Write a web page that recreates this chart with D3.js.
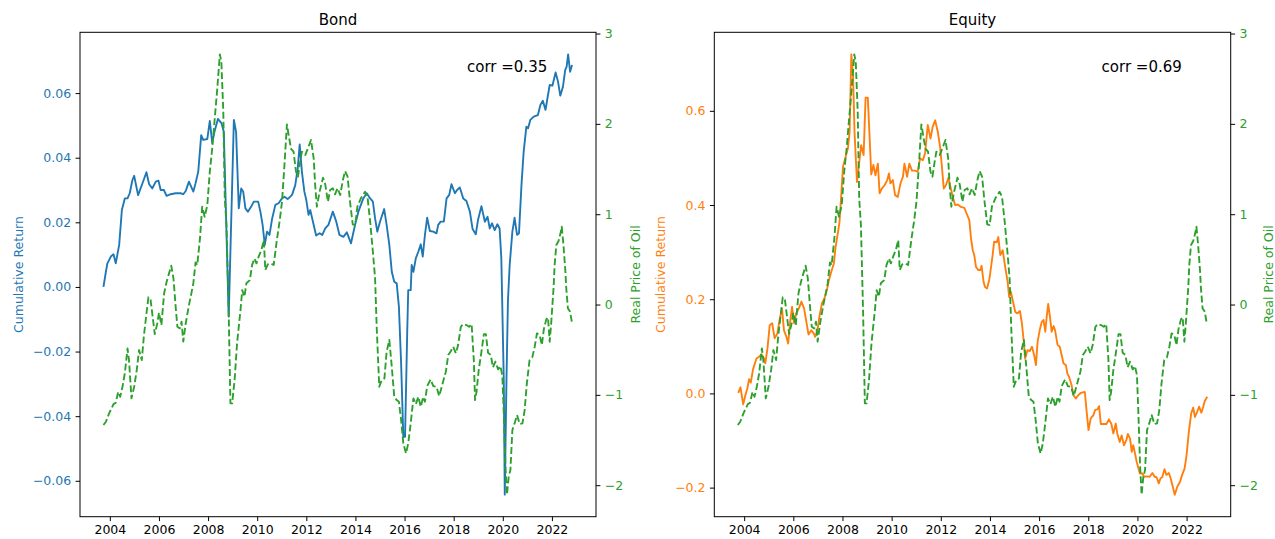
<!DOCTYPE html>
<html>
<head>
<meta charset="utf-8">
<script src="https://cdn.jsdelivr.net/npm/d3@7"></script>
<style>
  body { margin: 0; background: #fff; }
  svg text { font-family: "DejaVu Sans", sans-serif; }
</style>
</head>
<body>
<svg id="chart" width="1275" height="539"></svg>
<script>
// values (decimal years)
const bondYears = [2003.74, 2003.84, 2003.90, 2004.04, 2004.15, 2004.24, 2004.38, 2004.49, 2004.61, 2004.72, 2004.81, 2004.92, 2004.99, 2005.15, 2005.33, 2005.49, 2005.60, 2005.73, 2005.87, 2005.98, 2006.07, 2006.20, 2006.31, 2006.48, 2006.68, 2006.88, 2006.99, 2007.09, 2007.22, 2007.40, 2007.49, 2007.60, 2007.72, 2007.80, 2007.97, 2008.07, 2008.17, 2008.26, 2008.40, 2008.55, 2008.64, 2008.84, 2009.05, 2009.14, 2009.25, 2009.35, 2009.43, 2009.52, 2009.62, 2009.75, 2009.86, 2010.04, 2010.13, 2010.22, 2010.31, 2010.40, 2010.50, 2010.61, 2010.74, 2010.87, 2011.01, 2011.11, 2011.24, 2011.42, 2011.55, 2011.65, 2011.73, 2011.82, 2011.92, 2012.00, 2012.09, 2012.16, 2012.27, 2012.40, 2012.54, 2012.65, 2012.77, 2012.90, 2013.08, 2013.22, 2013.35, 2013.51, 2013.65, 2013.82, 2013.99, 2014.12, 2014.32, 2014.46, 2014.60, 2014.71, 2014.80, 2014.89, 2015.00, 2015.17, 2015.27, 2015.38, 2015.48, 2015.58, 2015.68, 2015.77, 2015.86, 2015.95, 2016.02, 2016.11, 2016.15, 2016.25, 2016.29, 2016.36, 2016.46, 2016.56, 2016.66, 2016.74, 2016.83, 2016.92, 2017.03, 2017.17, 2017.30, 2017.37, 2017.47, 2017.60, 2017.71, 2017.82, 2017.91, 2018.05, 2018.14, 2018.25, 2018.39, 2018.52, 2018.66, 2018.77, 2018.90, 2018.99, 2019.13, 2019.27, 2019.38, 2019.47, 2019.56, 2019.67, 2019.78, 2019.87, 2019.94, 2020.04, 2020.08, 2020.15, 2020.21, 2020.28, 2020.39, 2020.48, 2020.58, 2020.66, 2020.76, 2020.85, 2020.96, 2021.03, 2021.12, 2021.26, 2021.43, 2021.53, 2021.63, 2021.74, 2021.84, 2021.91, 2022.02, 2022.15, 2022.25, 2022.34, 2022.45, 2022.54, 2022.60, 2022.66, 2022.74, 2022.82];
const bondReturn = [0.0000, 0.0047, 0.0073, 0.0094, 0.0101, 0.0073, 0.0130, 0.0238, 0.0274, 0.0274, 0.0290, 0.0331, 0.0344, 0.0284, 0.0321, 0.0355, 0.0318, 0.0305, 0.0326, 0.0329, 0.0300, 0.0300, 0.0282, 0.0287, 0.0290, 0.0290, 0.0287, 0.0297, 0.0326, 0.0295, 0.0321, 0.0357, 0.0470, 0.0455, 0.0458, 0.0514, 0.0445, 0.0480, 0.0520, 0.0506, 0.0480, -0.0092, 0.0517, 0.0480, 0.0243, 0.0305, 0.0295, 0.0243, 0.0233, 0.0248, 0.0264, 0.0264, 0.0233, 0.0192, 0.0130, 0.0171, 0.0161, 0.0212, 0.0254, 0.0259, 0.0274, 0.0279, 0.0272, 0.0285, 0.0315, 0.0367, 0.0441, 0.0357, 0.0295, 0.0269, 0.0223, 0.0238, 0.0202, 0.0159, 0.0166, 0.0161, 0.0181, 0.0192, 0.0233, 0.0202, 0.0161, 0.0155, 0.0169, 0.0135, 0.0194, 0.0233, 0.0274, 0.0290, 0.0274, 0.0264, 0.0212, 0.0171, 0.0202, 0.0241, 0.0192, 0.0130, 0.0047, 0.0016, 0.0011, -0.0061, -0.0237, -0.0464, -0.0464, -0.0133, -0.0010, -0.0010, 0.0068, 0.0047, 0.0089, 0.0109, 0.0132, 0.0094, 0.0161, 0.0214, 0.0173, 0.0171, 0.0166, 0.0192, 0.0202, 0.0202, 0.0274, 0.0285, 0.0318, 0.0290, 0.0300, 0.0308, 0.0274, 0.0266, 0.0233, 0.0179, 0.0163, 0.0207, 0.0250, 0.0202, 0.0217, 0.0181, 0.0197, 0.0176, 0.0194, 0.0181, 0.0089, -0.0288, -0.0643, -0.0288, -0.0041, 0.0068, 0.0171, 0.0214, 0.0161, 0.0166, 0.0315, 0.0419, 0.0496, 0.0491, 0.0517, 0.0527, 0.0532, 0.0563, 0.0576, 0.0548, 0.0594, 0.0625, 0.0623, 0.0664, 0.0635, 0.0592, 0.0620, 0.0671, 0.0682, 0.0720, 0.0666, 0.0687];

const equityYears = [2003.76, 2003.85, 2003.96, 2004.05, 2004.13, 2004.20, 2004.27, 2004.36, 2004.50, 2004.61, 2004.70, 2004.81, 2004.86, 2004.95, 2005.04, 2005.14, 2005.24, 2005.35, 2005.45, 2005.54, 2005.62, 2005.72, 2005.79, 2005.88, 2005.95, 2006.03, 2006.12, 2006.22, 2006.33, 2006.44, 2006.53, 2006.62, 2006.73, 2006.84, 2006.89, 2006.98, 2007.07, 2007.17, 2007.27, 2007.38, 2007.45, 2007.54, 2007.65, 2007.72, 2007.82, 2007.88, 2007.95, 2008.02, 2008.11, 2008.22, 2008.29, 2008.36, 2008.43, 2008.49, 2008.59, 2008.67, 2008.76, 2008.86, 2008.94, 2009.03, 2009.10, 2009.17, 2009.26, 2009.34, 2009.44, 2009.51, 2009.60, 2009.71, 2009.82, 2009.89, 2009.95, 2010.05, 2010.14, 2010.25, 2010.36, 2010.46, 2010.52, 2010.63, 2010.72, 2010.83, 2010.95, 2011.06, 2011.16, 2011.27, 2011.36, 2011.47, 2011.58, 2011.67, 2011.77, 2011.88, 2011.97, 2012.04, 2012.12, 2012.21, 2012.31, 2012.39, 2012.49, 2012.58, 2012.69, 2012.82, 2012.96, 2013.05, 2013.16, 2013.23, 2013.30, 2013.36, 2013.43, 2013.52, 2013.61, 2013.66, 2013.74, 2013.80, 2013.88, 2013.97, 2014.01, 2014.11, 2014.17, 2014.28, 2014.34, 2014.42, 2014.52, 2014.61, 2014.72, 2014.78, 2014.85, 2015.03, 2015.12, 2015.22, 2015.30, 2015.37, 2015.43, 2015.53, 2015.62, 2015.71, 2015.80, 2015.87, 2015.94, 2016.03, 2016.11, 2016.18, 2016.25, 2016.31, 2016.37, 2016.45, 2016.51, 2016.59, 2016.65, 2016.75, 2016.84, 2016.92, 2016.99, 2017.09, 2017.15, 2017.22, 2017.32, 2017.40, 2017.49, 2017.59, 2017.69, 2017.86, 2017.94, 2018.01, 2018.10, 2018.21, 2018.28, 2018.37, 2018.44, 2018.51, 2018.62, 2018.74, 2018.84, 2018.94, 2019.02, 2019.12, 2019.18, 2019.28, 2019.36, 2019.45, 2019.55, 2019.61, 2019.70, 2019.77, 2019.83, 2019.90, 2019.97, 2020.04, 2020.10, 2020.20, 2020.27, 2020.40, 2020.50, 2020.61, 2020.70, 2020.78, 2020.87, 2020.94, 2021.01, 2021.10, 2021.18, 2021.28, 2021.35, 2021.44, 2021.52, 2021.62, 2021.73, 2021.82, 2021.92, 2022.00, 2022.09, 2022.19, 2022.27, 2022.34, 2022.43, 2022.51, 2022.60, 2022.68, 2022.74, 2022.84];
const equityReturn = [0.001, 0.013, -0.023, -0.004, 0.011, 0.030, 0.023, 0.051, 0.074, 0.078, 0.083, 0.074, 0.064, 0.096, 0.145, 0.149, 0.117, 0.127, 0.159, 0.180, 0.134, 0.120, 0.106, 0.156, 0.184, 0.149, 0.170, 0.180, 0.195, 0.180, 0.152, 0.125, 0.134, 0.127, 0.120, 0.134, 0.166, 0.192, 0.202, 0.223, 0.241, 0.258, 0.276, 0.311, 0.343, 0.364, 0.421, 0.481, 0.499, 0.520, 0.555, 0.720, 0.676, 0.555, 0.449, 0.485, 0.527, 0.506, 0.628, 0.628, 0.548, 0.465, 0.485, 0.463, 0.488, 0.425, 0.435, 0.442, 0.453, 0.467, 0.446, 0.453, 0.421, 0.417, 0.446, 0.460, 0.488, 0.460, 0.488, 0.473, 0.473, 0.471, 0.499, 0.495, 0.510, 0.570, 0.541, 0.566, 0.580, 0.555, 0.524, 0.485, 0.435, 0.442, 0.458, 0.439, 0.417, 0.400, 0.401, 0.396, 0.394, 0.382, 0.368, 0.329, 0.304, 0.294, 0.269, 0.262, 0.262, 0.271, 0.237, 0.226, 0.223, 0.241, 0.255, 0.294, 0.322, 0.321, 0.332, 0.294, 0.304, 0.272, 0.237, 0.205, 0.216, 0.173, 0.170, 0.175, 0.149, 0.113, 0.074, 0.092, 0.090, 0.099, 0.081, 0.060, 0.110, 0.136, 0.152, 0.156, 0.131, 0.163, 0.190, 0.159, 0.131, 0.143, 0.134, 0.103, 0.099, 0.081, 0.064, 0.060, 0.042, 0.035, 0.018, -0.004, -0.011, -0.004, 0.001, 0.003, -0.042, -0.078, -0.053, -0.046, -0.035, -0.034, -0.027, -0.065, -0.065, -0.065, -0.055, -0.065, -0.085, -0.064, -0.085, -0.103, -0.089, -0.110, -0.099, -0.086, -0.096, -0.124, -0.110, -0.127, -0.145, -0.159, -0.170, -0.170, -0.177, -0.176, -0.177, -0.169, -0.177, -0.178, -0.191, -0.180, -0.178, -0.161, -0.173, -0.169, -0.180, -0.198, -0.215, -0.198, -0.188, -0.173, -0.159, -0.131, -0.082, -0.042, -0.030, -0.050, -0.039, -0.028, -0.041, -0.028, -0.016, -0.007];

const oilYears = [2003.74, 2003.84, 2003.97, 2004.15, 2004.24, 2004.34, 2004.42, 2004.52, 2004.61, 2004.72, 2004.78, 2004.88, 2004.99, 2005.10, 2005.19, 2005.30, 2005.39, 2005.50, 2005.57, 2005.66, 2005.83, 2005.94, 2006.00, 2006.10, 2006.21, 2006.31, 2006.41, 2006.50, 2006.59, 2006.68, 2006.75, 2006.85, 2006.92, 2006.99, 2007.09, 2007.22, 2007.32, 2007.40, 2007.49, 2007.56, 2007.67, 2007.76, 2007.86, 2007.97, 2008.07, 2008.17, 2008.26, 2008.37, 2008.48, 2008.54, 2008.62, 2008.68, 2008.75, 2008.84, 2008.91, 2008.98, 2009.08, 2009.18, 2009.32, 2009.39, 2009.48, 2009.56, 2009.70, 2009.79, 2009.89, 2009.97, 2010.06, 2010.17, 2010.27, 2010.33, 2010.43, 2010.56, 2010.67, 2010.81, 2010.91, 2011.01, 2011.11, 2011.21, 2011.28, 2011.38, 2011.48, 2011.58, 2011.66, 2011.75, 2011.82, 2011.96, 2012.09, 2012.19, 2012.30, 2012.36, 2012.43, 2012.54, 2012.68, 2012.77, 2012.88, 2012.97, 2013.08, 2013.17, 2013.27, 2013.38, 2013.49, 2013.58, 2013.68, 2013.78, 2013.89, 2013.99, 2014.08, 2014.22, 2014.39, 2014.49, 2014.60, 2014.71, 2014.80, 2014.87, 2014.97, 2015.07, 2015.18, 2015.27, 2015.38, 2015.48, 2015.58, 2015.68, 2015.77, 2015.86, 2015.95, 2016.06, 2016.15, 2016.25, 2016.36, 2016.46, 2016.56, 2016.66, 2016.76, 2016.83, 2016.92, 2017.06, 2017.17, 2017.30, 2017.41, 2017.55, 2017.68, 2017.78, 2017.87, 2017.98, 2018.09, 2018.18, 2018.29, 2018.39, 2018.52, 2018.63, 2018.73, 2018.82, 2018.87, 2018.93, 2019.02, 2019.13, 2019.23, 2019.31, 2019.40, 2019.51, 2019.60, 2019.70, 2019.81, 2019.90, 2019.98, 2020.04, 2020.11, 2020.17, 2020.24, 2020.31, 2020.39, 2020.48, 2020.58, 2020.69, 2020.80, 2020.89, 2020.98, 2021.09, 2021.20, 2021.30, 2021.39, 2021.50, 2021.59, 2021.67, 2021.77, 2021.84, 2021.91, 2021.97, 2022.07, 2022.11, 2022.18, 2022.27, 2022.35, 2022.40, 2022.47, 2022.55, 2022.58, 2022.65, 2022.74, 2022.82];
const oilPrice = [-1.334, -1.298, -1.205, -1.102, -1.087, -0.966, -1.021, -0.903, -0.762, -0.485, -0.615, -1.039, -0.910, -0.718, -0.504, -0.615, -0.338, -0.080, 0.080, 0.050, -0.327, -0.200, -0.090, -0.227, 0.124, 0.250, 0.345, 0.430, 0.290, -0.024, -0.246, -0.264, -0.190, -0.410, -0.208, -0.006, 0.124, 0.235, 0.467, 0.437, 0.733, 1.083, 0.972, 1.102, 1.471, 1.730, 2.024, 2.375, 2.770, 2.690, 2.135, 1.176, 0.880, -0.098, -1.094, -1.094, -0.836, -0.430, -0.061, 0.160, 0.086, 0.235, 0.270, 0.437, 0.510, 0.456, 0.530, 0.603, 0.714, 0.382, 0.445, 0.456, 0.437, 0.733, 0.917, 1.138, 1.545, 1.995, 1.877, 1.722, 1.692, 1.471, 1.415, 1.581, 1.692, 1.656, 1.748, 1.822, 1.619, 1.323, 1.083, 1.249, 1.404, 1.331, 1.138, 1.268, 1.287, 1.220, 1.287, 1.213, 1.379, 1.478, 1.415, 1.138, 0.888, 0.880, 1.083, 1.176, 1.249, 1.194, 0.917, 0.585, 0.290, -0.282, -0.910, -0.836, -0.817, -0.523, -0.393, -0.689, -1.021, -1.058, -1.076, -1.279, -1.537, -1.648, -1.537, -1.316, -1.039, -1.102, -1.021, -1.132, -1.021, -1.076, -0.903, -0.829, -0.903, -0.910, -1.013, -0.873, -0.744, -0.559, -0.523, -0.467, -0.540, -0.449, -0.246, -0.216, -0.227, -0.246, -0.216, -0.615, -1.058, -0.966, -0.725, -0.523, -0.327, -0.327, -0.534, -0.559, -0.695, -0.633, -0.718, -0.681, -0.781, -1.205, -1.796, -2.105, -1.907, -1.833, -1.390, -1.316, -1.224, -1.323, -1.316, -1.168, -0.873, -0.615, -0.585, -0.467, -0.319, -0.338, -0.449, -0.275, -0.164, -0.142, -0.412, -0.208, 0.197, 0.437, 0.659, 0.703, 0.788, 0.862, 0.659, 0.363, 0.197, -0.042, -0.080, -0.208];

const xTicks = [2004, 2006, 2008, 2010, 2012, 2014, 2016, 2018, 2020, 2022];
const bondTicks = [-0.06, -0.04, -0.02, 0, 0.02, 0.04, 0.06];
const equityTicks = [-0.2, 0, 0.2, 0.4, 0.6];
const oilTicks = [-2, -1, 0, 1, 2, 3];
const panelTitles = ["Bond", "Equity"];
const corrLabels = ["corr =0.35", "corr =0.69"];

const svg = d3.select("#chart");
const plotTop = 32.3;
const plotBottom = 516.7;
const tickLen = 4.4;
const tickPad = 4.4;

// matplotlib style: 5% margin around the data range
function padded(values) {
  const [lo, hi] = d3.extent(values);
  const m = (hi - lo) * 0.05;
  return [lo - m, hi + m];
}

const xDomain = padded(bondYears.concat(equityYears, oilYears));

function styleAxis(g, color) {
  g.select(".domain").remove();
  g.selectAll(".tick line").attr("stroke", "#000").attr("stroke-width", 1);
  g.selectAll(".tick text")
    .attr("fill", color)
    .style("font-size", "12.5px")
    .style("font-family", "DejaVu Sans");
}

function drawPanel(p) {
  const x = d3.scaleLinear().domain(xDomain).range([p.x0, p.x1]);
  const y = d3.scaleLinear().domain(padded(p.values)).range([plotBottom, plotTop]);
  const yOil = d3.scaleLinear().domain(padded(oilPrice)).range([plotBottom, plotTop]);

  const g = svg.append("g");

  g.append("g")
    .attr("transform", `translate(0,${plotBottom})`)
    .call(d3.axisBottom(x).tickValues(xTicks).tickFormat(d3.format("d")).tickSize(tickLen).tickPadding(tickPad))
    .call((a) => styleAxis(a, "#000"));

  g.append("g")
    .attr("transform", `translate(${p.x0},0)`)
    .call(d3.axisLeft(y).tickValues(p.ticks).tickFormat(p.fmt).tickSize(tickLen).tickPadding(tickPad))
    .call((a) => styleAxis(a, p.color));

  g.append("g")
    .attr("transform", `translate(${p.x1},0)`)
    .call(d3.axisRight(yOil).tickValues(oilTicks).tickFormat(d3.format("d")).tickSize(tickLen).tickPadding(tickPad))
    .call((a) => styleAxis(a, "#2ca02c"));

  const line = d3.line().x((d) => x(d[0])).y((d) => y(d[1]));
  const oilLine = d3.line().x((d) => x(d[0])).y((d) => yOil(d[1]));

  g.append("path")
    .datum(d3.zip(p.years, p.values))
    .attr("d", line)
    .attr("fill", "none")
    .attr("stroke", p.color)
    .attr("stroke-width", 1.875)
    .attr("stroke-linejoin", "round");

  g.append("path")
    .datum(d3.zip(oilYears, oilPrice))
    .attr("d", oilLine)
    .attr("fill", "none")
    .attr("stroke", "#2ca02c")
    .attr("stroke-width", 1.875)
    .attr("stroke-dasharray", "6.9,3")
    .attr("stroke-linejoin", "round");

  // spines
  g.append("rect")
    .attr("x", p.x0)
    .attr("y", plotTop)
    .attr("width", p.x1 - p.x0)
    .attr("height", plotBottom - plotTop)
    .attr("fill", "none")
    .attr("stroke", "#000")
    .attr("stroke-width", 1);

  g.append("text")
    .attr("x", (p.x0 + p.x1) / 2)
    .attr("y", 24.8)
    .attr("text-anchor", "middle")
    .style("font-size", "15px")
    .text(p.title);

  g.append("text")
    .attr("x", p.x0 + 0.75 * (p.x1 - p.x0))
    .attr("y", 71.5)
    .style("font-size", "15px")
    .text(p.corr);

  const midY = (plotTop + plotBottom) / 2;
  g.append("text")
    .attr("transform", `translate(${p.leftLabelX},${midY}) rotate(-90)`)
    .attr("text-anchor", "middle")
    .attr("fill", p.color)
    .style("font-size", "12.5px")
    .text("Cumulative Return");

  g.append("text")
    .attr("transform", `translate(${p.rightLabelX},${midY}) rotate(-90)`)
    .attr("text-anchor", "middle")
    .attr("fill", "#2ca02c")
    .style("font-size", "12.5px")
    .text("Real Price of Oil");
}

drawPanel({
  x0: 80, x1: 596,
  years: bondYears, values: bondReturn,
  color: "#1f77b4", ticks: bondTicks, fmt: d3.format(".2f"),
  title: panelTitles[0], corr: corrLabels[0],
  leftLabelX: 22.5, rightLabelX: 639.5
});

drawPanel({
  x0: 714.3, x1: 1230.7,
  years: equityYears, values: equityReturn,
  color: "#ff7f0e", ticks: equityTicks, fmt: d3.format(".1f"),
  title: panelTitles[1], corr: corrLabels[1],
  leftLabelX: 664.5, rightLabelX: 1273
});
</script>
</body>
</html>
